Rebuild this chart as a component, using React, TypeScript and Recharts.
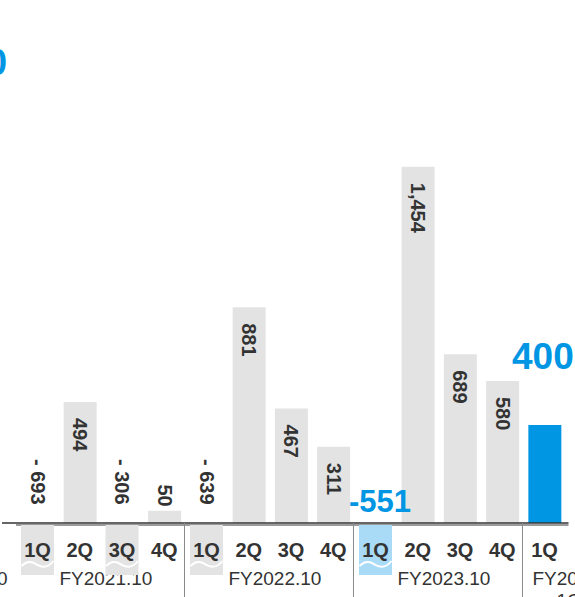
import React from "react";
import { BarChart, Bar, XAxis, YAxis, Cell, LabelList } from "recharts";

// quarterly operating result, FY2021.10 - FY2024.10 1Q
const quarters = ["1Q", "2Q", "3Q", "4Q", "1Q", "2Q", "3Q", "4Q", "1Q", "2Q", "3Q", "4Q", "1Q"];
const values = [-693, 494, -306, 50, -639, 881, 467, 311, -551, 1454, 689, 580, 400];
const fiscalYears = ["FY2021.10", "FY2022.10", "FY2023.10", "FY2024.10"];
const highlighted = [8, 12];

const W = 575;
const H = 597;
const GRAY = "#e3e3e3";
const BLUE = "#0096e4";
const LIGHT_BLUE = "#a9daf6";
const TEXT = "#333333";
const FONT = "'Liberation Sans', Arial, sans-serif";

const data = quarters.map((q, i) => ({
  key: i,
  quarter: q,
  value: values[i],
  bar: Math.max(values[i], 0),
}));

function fmt(v: number) {
  if (v < 0) return `- ${Math.abs(v).toLocaleString("en-US")}`;
  return v.toLocaleString("en-US");
}

function VerticalLabel({ cx, y, anchor, text }: { cx: number; y: number; anchor: string; text: string }) {
  return (
    <text x={cx} y={y} textAnchor={anchor} dominantBaseline="central"
      transform={`rotate(90, ${cx}, ${y})`} fill={TEXT}
      fontFamily={FONT} fontWeight="bold" fontSize={20}>
      {text}
    </text>
  );
}

// labels of the positive bars (value of the label = index of the row)
function BarLabel(props: any) {
  const { x, y, width, height, value } = props;
  const i = Number(value);
  const v = values[i];
  const cx = Number(x) + Number(width) / 2;
  const top = Number(y);
  const h = Number(height);
  if (v < 0) return null;

  if (highlighted.includes(i)) {
    return (
      <text x={cx - 2} y={top - 56} textAnchor="middle" fill={BLUE}
        fontFamily={FONT} fontWeight="bold" fontSize={37}>
        {v.toLocaleString("en-US")}
      </text>
    );
  }
  if (h > 40) return <VerticalLabel cx={cx} y={top + 16} anchor="start" text={fmt(v)} />;
  return <VerticalLabel cx={cx} y={top - 4} anchor="end" text={fmt(v)} />;
}

function QuarterTick(props: any) {
  const { x, y, payload, index } = props;
  const i = index ?? payload.index;
  const v = values[i];
  const group = Math.floor(i / 4);
  const isFirst = i % 4 === 0;
  const groupSize = Math.min(4, quarters.length - group * 4);
  const hi = highlighted.includes(i);

  return (
    <g>
      {i === 0 && (
        <>
          <line x1={x - 21.5} x2={x + 531} y1={y + 2} y2={y + 2} stroke="#9a9a9a" strokeWidth={2} />
          <line x1={x - 35.5} x2={x + 531} y1={y} y2={y} stroke={TEXT} strokeWidth={1.5} />
          <text x={x - 30} y={y + 62} textAnchor="end" fill={TEXT} fontFamily={FONT} fontSize={19}>
            FY2020.10
          </text>
        </>
      )}
      {v < 0 && (
        <>
          <rect x={x - 16.5} y={y + 2} width={33} height={50} fill={hi ? LIGHT_BLUE : GRAY} />
          <path
            d={`M ${x - 16} ${y + 43} C ${x - 8} ${y + 35}, ${x - 2} ${y + 41}, ${x} ${y + 42} S ${x + 9} ${y + 47}, ${x + 16} ${y + 38}`}
            fill="none" stroke="#ffffff" strokeWidth={2}
          />
          {hi ? (
            <text x={x + 4.5} y={y - 11} textAnchor="middle" fill={BLUE}
              fontFamily={FONT} fontWeight="bold" fontSize={31}>
              {`${v}`}
            </text>
          ) : (
            <VerticalLabel cx={x} y={y - 64} anchor="start" text={fmt(v)} />
          )}
        </>
      )}
      <text x={x} y={y + 34} textAnchor="middle" fill={TEXT}
        fontFamily={FONT} fontWeight="bold" fontSize={20}>
        {payload.value}
      </text>
      {isFirst && group > 0 && (
        <line x1={x - 22} x2={x - 22} y1={y} y2={y + 80} stroke="#8a8a8a" strokeWidth={1} />
      )}
      {isFirst && groupSize === 4 && (
        <text x={x + 63.4 + 5} y={y + 62} textAnchor="middle" fill={TEXT}
          fontFamily={FONT} fontSize={19}>
          {fiscalYears[group]}
        </text>
      )}
      {isFirst && groupSize < 4 && (
        <>
          <text x={x - 12} y={y + 62} textAnchor="start" fill={TEXT}
            fontFamily={FONT} fontSize={19}>
            {fiscalYears[group]}
          </text>
          <text x={x + 12} y={y + 84} textAnchor="start" fill={TEXT}
            fontFamily={FONT} fontSize={19}>
            1Q
          </text>
        </>
      )}
    </g>
  );
}

export default function App() {
  return (
    <div style={{ position: "absolute", left: 0, top: 0, width: W, height: H, background: "#fff", overflow: "hidden" }}>
      <BarChart
        width={W}
        height={H}
        data={data}
        margin={{ top: 131, right: 9.4, left: 16.4, bottom: 0 }}
        barSize={33}
      >
        <XAxis
          dataKey="quarter"
          interval={0}
          axisLine={false}
          tickLine={false}
          tickSize={0}
          tickMargin={0}
          height={74}
          tick={<QuarterTick />}
        />
        <YAxis hide domain={[0, 1600]} />
        <Bar dataKey="bar" isAnimationActive={false}>
          {data.map((d, i) => (
            <Cell key={d.key} fill={i === values.length - 1 ? BLUE : GRAY} />
          ))}
          <LabelList dataKey="key" content={<BarLabel />} />
        </Bar>
      </BarChart>
      <svg width={W} height={H} style={{ position: "absolute", left: 0, top: 0, pointerEvents: "none" }}>
        <text x={7} y={75} textAnchor="end" fill={BLUE} fontFamily={FONT} fontWeight="bold" fontSize={37}>
          0
        </text>
      </svg>
    </div>
  );
}
